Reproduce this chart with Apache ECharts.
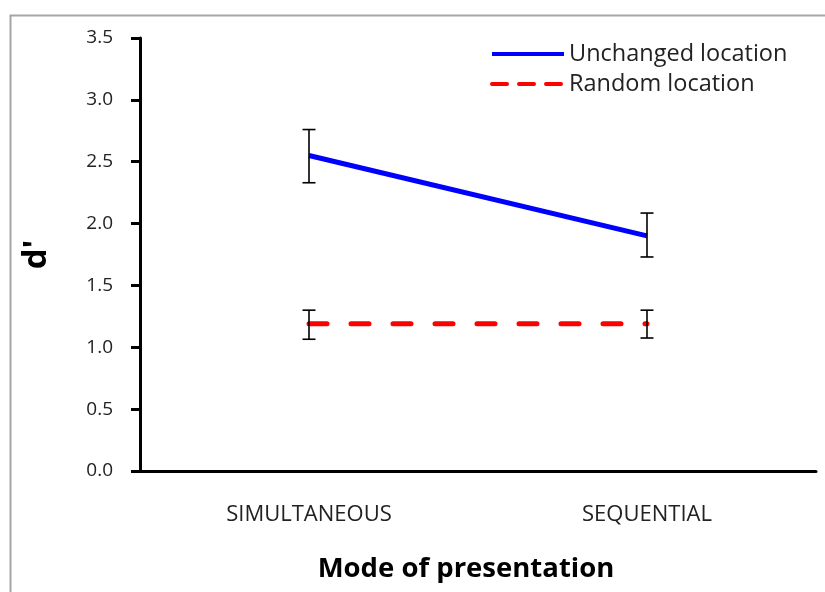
<!DOCTYPE html>
<html><head><meta charset="utf-8">
<script src="https://cdn.jsdelivr.net/npm/echarts@6/dist/echarts.min.js"></script>
<style>html,body{margin:0;padding:0;background:#fff}#c{width:825px;height:592px}</style>
</head><body><div id="c"></div>
<script>
const categories = ['SIMULTANEOUS', 'SEQUENTIAL'];
const unchanged = [2.55, 1.90];
const unchangedLow = [2.33, 1.73];
const unchangedHigh = [2.76, 2.085];
const random = [1.19, 1.19];
const randomLow = [1.065, 1.075];
const randomHigh = [1.30, 1.30];
const yTicks = [0, 0.5, 1, 1.5, 2, 2.5, 3, 3.5];

const font = '"Open Sans", Lato, sans-serif';
const errData = [];
categories.forEach((c, i) => {
  errData.push([i, unchangedLow[i], unchangedHigh[i]]);
  errData.push([i, randomLow[i], randomHigh[i]]);
});

const chart = echarts.init(document.getElementById('c'));
chart.setOption({
  animation: false,
  backgroundColor: '#fff',
  graphic: [{
    type: 'rect', left: 8, top: 13, shape: {width: 840, height: 600},
    style: {fill: 'none', stroke: '#a6a6a6', lineWidth: 2}, silent: true, z: -1
  }],
  grid: {left: 140, right: 9, top: 38, bottom: 121},
  legend: {
    left: 485, top: 37, orient: 'vertical', itemWidth: 72, itemHeight: 14, itemGap: 6,
    textStyle: {fontFamily: font, fontSize: 23.5, color: '#222', lineHeight: 24},
    itemStyle: {color: 'rgba(0,0,0,0)', borderColor: 'rgba(0,0,0,0)', borderWidth: 0, opacity: 0},
    data: [
      {name: 'Unchanged location', lineStyle: {width: 4}},
      {name: 'Random location', lineStyle: {width: 4, type: [15, 12]}}
    ]
  },
  xAxis: {
    type: 'category', data: categories, boundaryGap: true,
    name: 'Mode of presentation', nameLocation: 'middle', nameGap: 84,
    nameTextStyle: {fontFamily: font, fontSize: 27.5, fontWeight: 'bold', color: '#000', padding: [0, 24, 0, 0]},
    axisLine: {lineStyle: {color: '#000', width: 3}},
    axisTick: {alignWithLabel: true, length: 7, lineStyle: {color: '#000', width: 3}},
    axisLabel: {fontFamily: font, fontSize: 22, color: '#222', margin: 33},
    splitLine: {show: false}
  },
  yAxis: {
    type: 'value', min: 0, max: 3.5, interval: 0.5,
    name: "d'", nameLocation: 'middle', nameGap: 87, nameRotate: 90,
    nameTextStyle: {fontFamily: font, fontSize: 33, fontWeight: 'bold', color: '#000'},
    axisLine: {show: true, lineStyle: {color: '#000', width: 3}},
    axisTick: {show: true, length: 9, lineStyle: {color: '#000', width: 3}},
    axisLabel: {fontFamily: font, fontSize: 19, color: '#222', margin: 27,
      formatter: v => yTicks.includes(v) ? v.toFixed(1) : ''},
    splitLine: {show: false}
  },
  series: [
    {name: 'Unchanged location', type: 'line', data: unchanged, symbol: 'none',
     lineStyle: {color: '#0000ff', width: 5}, itemStyle: {color: '#0000ff'}, z: 2},
    {name: 'Random location', type: 'line', data: random, symbol: 'none',
     lineStyle: {color: '#ff0000', width: 5, type: [18, 24], cap: 'round'}, itemStyle: {color: '#ff0000'}, z: 2},
    {type: 'custom', data: errData, z: 5,
     renderItem: function (params, api) {
       const x = api.value(0);
       const lo = api.coord([x, api.value(1)]);
       const hi = api.coord([x, api.value(2)]);
       const w = 6.5;
       const st = {stroke: '#000', lineWidth: 1.6};
       return {type: 'group', children: [
         {type: 'line', shape: {x1: lo[0], y1: lo[1], x2: hi[0], y2: hi[1]}, style: st},
         {type: 'line', shape: {x1: lo[0]-w, y1: lo[1], x2: lo[0]+w, y2: lo[1]}, style: st},
         {type: 'line', shape: {x1: hi[0]-w, y1: hi[1], x2: hi[0]+w, y2: hi[1]}, style: st}
       ]};
     }}
  ]
});
</script></body></html>
